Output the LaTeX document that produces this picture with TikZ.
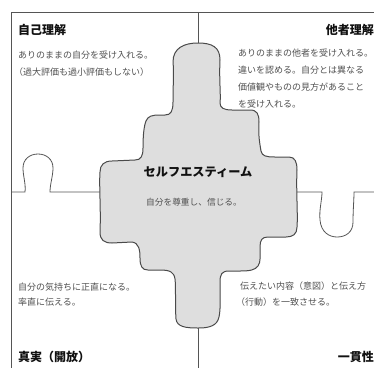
\documentclass[tikz,border=0pt]{standalone}
\usepackage{fontspec}
\newfontfamily\jp{Noto Sans CJK JP}
\definecolor{puzfill}{HTML}{DEDEDE}
\definecolor{puzline}{HTML}{4A4A4A}
\definecolor{divline}{HTML}{555555}
\definecolor{bodytxt}{HTML}{505050}
\definecolor{titletxt}{HTML}{111111}
\tikzset{
  divider/.style={draw=divline, line width=0.8pt},
  puzzle/.style={draw=puzline, fill=puzfill, line width=1pt},
  title/.style={inner sep=0pt, text=titletxt, font=\jp\bfseries\fontsize{12}{14}\selectfont},
  bodyline/.style={inner sep=0pt, anchor=west, text=bodytxt, font=\jp\fontsize{9}{10}\selectfont},
}
\begin{document}
\begin{tikzpicture}[x=1pt,y=-1pt]
\useasboundingbox (0,0) rectangle (374,368);
\fill[white] (0,0) rectangle (374,368);
% frame
\coordinate (frTR) at (374,12);
\coordinate (frTL) at (11,12);
\coordinate (frBL) at (11,368);
\draw[divider] (frTR) -- (frTL) -- (frBL);
% vertical dividers
\coordinate (vTop) at (198,12);
\coordinate (vTopEnd) at (198,43);
\coordinate (vBot) at (198,368);
\coordinate (vBotEnd) at (198,328);
\draw[divider] (vTop) -- (vTopEnd);
\draw[divider] (vBotEnd) -- (vBot);
% left horizontal with loop
\coordinate (hL0) at (11,192);
\coordinate (hL1) at (25,192);
\coordinate (hL2) at (50,192);
\coordinate (hL3) at (100,192);
\draw[divider] (hL0) -- (hL1) .. controls (26,184) and (23,176) .. (23,168)
  .. controls (23,159) and (30,154) .. (38,154)
  .. controls (46,154) and (53,159) .. (53,168)
  .. controls (53,176) and (50,184) .. (hL2) -- (hL3);
% right horizontal with loop
\coordinate (hR0) at (297,192);
\coordinate (hR1) at (322,192);
\coordinate (hR2) at (354,192);
\coordinate (hR3) at (374,192);
\draw[divider] (hR0) -- (hR1) .. controls (322,200) and (319,210) .. (320,220)
  .. controls (321,232) and (329,237) .. (337,237)
  .. controls (346,237) and (353,232) .. (353,222)
  .. controls (353,210) and (354,200) .. (hR2) -- (hR3);
% puzzle piece
\path[puzzle] (198,43) .. controls (212,43) and (220,47) .. (220,60)
  .. controls (219,80) and (221,95) .. (220,103)
  .. controls (220,108) and (224,110) .. (232,110) -- (250,110)
  .. controls (257,110) and (259,114) .. (259,122)
  .. controls (258,135) and (260,145) .. (261,151)
  .. controls (262,156) and (266,157) .. (275,157) -- (289,157)
  .. controls (295,157) and (297,162) .. (297,170)
  .. controls (296,190) and (298,215) .. (297,227)
  .. controls (297,234) and (293,237) .. (286,237) -- (268,237)
  .. controls (262,237) and (260,240) .. (260,247)
  .. controls (260,255) and (261,262) .. (258,266)
  .. controls (255,270) and (250,271) .. (240,271) -- (229,271)
  .. controls (222,271) and (220,274) .. (220,282)
  .. controls (220,300) and (221,313) .. (218,320)
  .. controls (215,327) and (206,328) .. (198,328)
  .. controls (186,328) and (177,327) .. (176,319)
  .. controls (175,305) and (176,287) .. (175,279)
  .. controls (174,272) and (170,270) .. (160,270) -- (148,270)
  .. controls (142,270) and (140,266) .. (140,258)
  .. controls (140,250) and (139,243) .. (132,242) -- (112,243)
  .. controls (104,243) and (100,240) .. (100,232)
  .. controls (101,210) and (99,185) .. (100,172)
  .. controls (100,165) and (104,161) .. (112,161) -- (135,160)
  .. controls (141,160) and (143,156) .. (143,148)
  .. controls (143,135) and (144,126) .. (146,121)
  .. controls (148,116) and (152,115) .. (160,115) -- (165,115)
  .. controls (171,115) and (173,111) .. (173,102)
  .. controls (173,85) and (174,72) .. (173,62)
  .. controls (173,48) and (184,43) .. (198,43) -- cycle;
% centre texts
\node[inner sep=0pt, text=titletxt, font=\jp\bfseries\fontsize{12.2}{14}\selectfont] (se) at (198,172) {セルフエスティーム};
\node[inner sep=0pt, text=bodytxt, font=\jp\fontsize{8.7}{10}\selectfont] (sesub) at (194,202) {自分を尊重し、信じる。};
% titles
\node[title, anchor=west] (t1) at (18,30) {自己理解};
\node[title, anchor=east] (t2) at (374,30) {他者理解};
\node[title, anchor=west] (t3) at (18,357) {真実（開放）};
\node[title, anchor=east] (t4) at (374,357) {一貫性};
% top-left body
\node[bodyline] (tl1) at (18,55) {ありのままの自分を受け入れる。};
\node[bodyline] (tl2) at (14,72) {（過大評価も過小評価もしない）};
% top-right body
\node[bodyline] (tr1) at (238,53) {ありのままの他者を受け入れる。};
\node[bodyline] (tr2) at (238,70) {違いを認める。自分とは異なる};
\node[bodyline] (tr3) at (238,87) {価値観やものの見方があること};
\node[bodyline] (tr4) at (238,104) {を受け入れる。};
% bottom-left body
\node[bodyline] (bl1) at (18,287) {自分の気持ちに正直になる。};
\node[bodyline] (bl2) at (18,302) {率直に伝える。};
% bottom-right body
\node[bodyline] (br1) at (240,286) {伝えたい内容（意図）と伝え方};
\node[bodyline] (br2) at (236,302) {（行動）を一致させる。};
\end{tikzpicture}
\end{document}
